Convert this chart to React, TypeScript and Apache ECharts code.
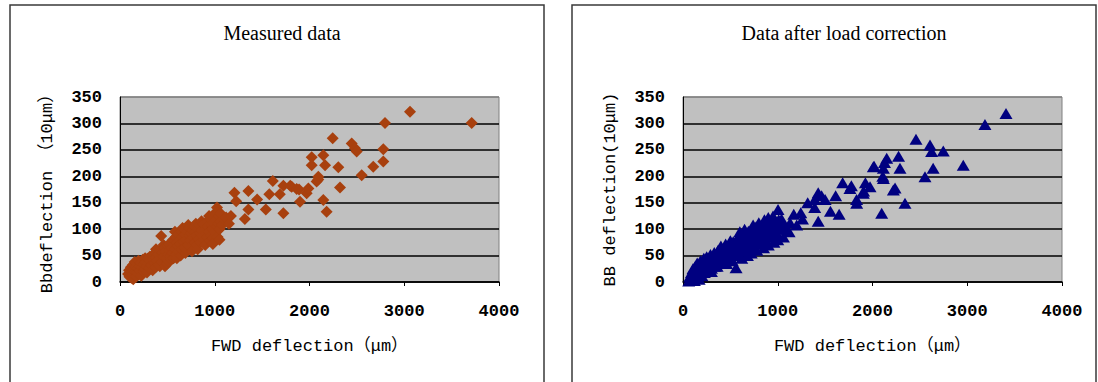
import React, { useEffect, useRef } from "react";
import * as echarts from "echarts";

const titles = ["Measured data", "Data after load correction"];
const xAxisName = "FWD deflection（μm）";
const yAxisNames = ["Bbdeflection （10μm）", "BB deflection(10μm)"];
const yTicks = [0, 50, 100, 150, 200, 250, 300, 350];
const xTicks = [0, 1000, 2000, 3000, 4000];

// Measured data (FWD deflection μm, BB deflection 10μm)
const measured: number[][] = [
  [85, 15], [95, 22], [100, 10], [110, 18], [115, 28], [120, 8], [125, 20], [130, 14], [135, 32], [140, 5],
  [145, 24], [150, 12], [155, 38], [160, 20], [165, 28], [170, 10], [175, 35], [180, 18], [190, 26], [195, 40],
  [200, 15], [205, 30], [210, 22], [220, 36], [225, 12], [230, 28], [240, 42], [245, 20], [250, 33], [260, 25],
  [265, 45], [270, 38], [280, 30], [285, 18], [290, 44], [300, 35], [310, 27], [315, 48], [320, 40], [330, 32],
  [340, 50], [345, 22], [350, 43], [360, 36], [370, 55], [375, 28], [380, 46], [380, 62], [390, 40], [400, 52],
  [410, 33], [420, 60], [420, 30], [425, 45], [435, 87], [440, 38], [450, 55], [460, 48], [460, 70], [470, 65],
  [475, 30], [480, 58], [490, 45], [500, 68], [500, 35], [505, 52], [510, 40], [520, 72], [525, 60], [530, 48],
  [540, 75], [540, 42], [545, 65], [550, 55], [560, 80], [565, 45], [570, 70], [580, 62], [580, 95], [590, 85],
  [595, 52], [600, 75], [600, 45], [610, 68], [615, 90], [620, 58], [630, 80], [640, 72], [640, 50], [645, 95],
  [650, 62], [660, 85], [660, 102], [670, 76], [675, 100], [680, 65], [690, 90], [690, 55], [700, 80], [705, 60],
  [710, 95], [720, 70], [720, 108], [730, 88], [735, 102], [740, 78], [750, 92], [760, 68], [760, 58], [765, 98],
  [770, 84], [780, 105], [790, 75], [800, 95], [800, 110], [805, 88], [810, 70], [820, 100], [820, 62], [830, 82],
  [840, 108], [845, 92], [850, 75], [860, 98], [860, 115], [870, 88], [880, 110], [890, 80], [900, 100], [900, 70],
  [910, 92], [920, 115], [925, 85], [930, 105], [940, 95], [940, 125], [950, 120], [950, 78], [960, 88], [970, 108],
  [975, 100], [980, 82], [980, 72], [990, 112], [1000, 95], [1000, 130], [1010, 118], [1020, 105], [1030, 85],
  [1040, 110], [1042, 125], [1024, 141], [1050, 100], [1050, 80], [1060, 115], [1060, 130], [1080, 108], [1097, 119],
  [1100, 118], [1120, 122], [1150, 110],
  [1171, 125], [1208, 169], [1226, 153], [1318, 119], [1355, 137], [1355, 172], [1447, 156], [1539, 137], [1576, 166],
  [1613, 191], [1687, 166], [1724, 130], [1724, 182], [1797, 182], [1812, 180], [1865, 176], [1890, 175], [1900, 152],
  [1970, 168], [1988, 177], [2023, 236], [2023, 221], [2075, 190], [2093, 199], [2093, 194], [2146, 240], [2146, 155],
  [2164, 221], [2181, 133], [2245, 272], [2304, 217], [2322, 179], [2445, 262], [2480, 253], [2498, 247], [2551, 202],
  [2673, 218], [2779, 251], [2779, 228], [2797, 301], [3061, 322], [3712, 301],
];

// Data after load correction
const corrected: number[][] = [
  [60, 2], [70, 10], [80, 5], [90, 18], [100, 8], [105, 25], [110, 14], [120, 3], [125, 20], [130, 30],
  [140, 10], [145, 24], [150, 36], [160, 15], [165, 28], [170, 5], [180, 20], [185, 40], [190, 30], [200, 12],
  [210, 25], [220, 45], [225, 18], [230, 35], [240, 28], [250, 48], [260, 22], [270, 40], [280, 32], [290, 52],
  [300, 26], [300, 20], [310, 45], [320, 38], [330, 56], [340, 30], [350, 48], [360, 42], [360, 30], [370, 60],
  [380, 35], [390, 52], [400, 45], [400, 68], [410, 63], [420, 38], [430, 56], [440, 50], [450, 68], [450, 72],
  [460, 42], [460, 35], [470, 60], [480, 52], [490, 72], [500, 46], [500, 78], [510, 65], [520, 58], [520, 40],
  [530, 76], [540, 50], [550, 70], [560, 27], [565, 62], [570, 82], [580, 55], [590, 75], [600, 66], [600, 95],
  [610, 88], [620, 58], [620, 45], [630, 80], [640, 70], [650, 92], [650, 100], [660, 62], [670, 84], [680, 75],
  [680, 50], [690, 96], [700, 66], [710, 88], [720, 78], [720, 55], [730, 100], [740, 70], [740, 108], [750, 90],
  [760, 82], [770, 104], [780, 72], [780, 60], [790, 94], [800, 85], [800, 112], [810, 76], [820, 100], [830, 88],
  [840, 78], [850, 104], [850, 65], [860, 92], [860, 118], [870, 82], [880, 106], [890, 95], [900, 85], [900, 122],
  [900, 70], [910, 110], [920, 98], [930, 88], [940, 112], [950, 100], [950, 125], [960, 90], [960, 75], [970, 115],
  [980, 102], [990, 92], [1000, 80], [1003, 137], [1010, 118], [1020, 105], [1040, 119], [1050, 110], [1060, 85],
  [1070, 100], [1095, 100], [1120, 95],
  [1130, 112], [1169, 128], [1200, 108], [1243, 131], [1261, 119], [1316, 150], [1390, 156], [1390, 141], [1427, 115],
  [1427, 169], [1463, 163], [1500, 156], [1556, 134], [1611, 163], [1648, 128], [1685, 188], [1762, 177], [1777, 182],
  [1832, 156], [1833, 149], [1903, 168], [1906, 172], [1925, 188], [1974, 180], [2009, 218], [2017, 219], [2097, 130],
  [2109, 200], [2115, 215], [2115, 196], [2127, 226], [2150, 234], [2220, 174], [2238, 178], [2275, 238], [2290, 215],
  [2343, 149], [2459, 270], [2554, 199], [2607, 259], [2624, 247], [2640, 215], [2747, 248], [2958, 221], [3187, 298],
  [3409, 319],
];

const MONO = '"Liberation Mono", "DejaVu Sans Mono", "Noto Sans CJK SC", monospace';
const SERIF = '"Liberation Serif", "DejaVu Serif", serif';

export default function App() {
  const ref = useRef<HTMLDivElement>(null);
  useEffect(() => {
    if (!ref.current) return;
    const chart = echarts.init(ref.current, undefined, { renderer: "svg" });
    const grids = [
      { left: 120, top: 97, width: 379, height: 185 },
      { left: 683, top: 97, width: 379, height: 185 },
    ];
    const splitColors = yTicks.map((_, i) => (i === yTicks.length - 1 ? "#808080" : "#000000"));
    const labelStyle = { fontFamily: MONO, fontSize: 17, color: "#000", fontWeight: "bold" };
    const nameStyle = { fontFamily: MONO, fontSize: 17, color: "#000", fontWeight: "normal" };
    const mkX = (gi: number) => ({
      type: "value",
      gridIndex: gi,
      min: xTicks[0],
      max: xTicks[xTicks.length - 1],
      interval: 1000,
      name: xAxisName,
      nameLocation: "middle",
      nameGap: 56,
      nameTextStyle: nameStyle,
      axisLine: { show: true, lineStyle: { color: "#000", width: 1.5 } },
      axisTick: { show: true, length: 4, lineStyle: { color: "#000" } },
      axisLabel: { ...labelStyle, margin: 21, formatter: (v: number) => String(v) },
      splitLine: { show: false },
    });
    const mkY = (gi: number) => ({
      type: "value",
      gridIndex: gi,
      min: yTicks[0],
      max: yTicks[yTicks.length - 1],
      interval: 50,
      name: yAxisNames[gi],
      nameLocation: "middle",
      nameGap: 64,
      nameRotate: 90,
      nameTextStyle: nameStyle,
      axisLine: { show: true, lineStyle: { color: "#000", width: 1 } },
      axisTick: { show: false },
      axisLabel: { ...labelStyle, margin: 18, formatter: (v: number) => String(v) },
      splitLine: { show: true, lineStyle: { color: splitColors, width: 1.5 } },
    });
    const titleStyle = { fontFamily: SERIF, fontSize: 20, fontWeight: "normal", color: "#000" };
    chart.setOption({
      animation: false,
      backgroundColor: "#ffffff",
      title: [
        { text: titles[0], left: 277, top: 18, textAlign: "center", textStyle: titleStyle },
        { text: titles[1], left: 839, top: 18, textAlign: "center", textStyle: titleStyle },
      ],
      grid: grids.map((g) => ({ ...g, show: true, backgroundColor: "#c0c0c0", borderColor: "#808080", borderWidth: 1 })),
      xAxis: [mkX(0), mkX(1)],
      yAxis: [mkY(0), mkY(1)],
      graphic: [
        { type: "rect", shape: { x: 10, y: 5, width: 534, height: 400 }, style: { fill: "none", stroke: "#3a3a3a", lineWidth: 1.5 }, z: -1 },
        { type: "rect", shape: { x: 572, y: 5, width: 524, height: 400 }, style: { fill: "none", stroke: "#3a3a3a", lineWidth: 1.5 }, z: -1 },
      ],
      series: [
        {
          type: "scatter",
          xAxisIndex: 0,
          yAxisIndex: 0,
          symbol: "diamond",
          symbolSize: [12, 12],
          itemStyle: { color: "#a8400e", opacity: 1 },
          data: measured,
        },
        {
          type: "scatter",
          xAxisIndex: 1,
          yAxisIndex: 1,
          symbol: "triangle",
          symbolSize: [13, 11],
          itemStyle: { color: "#000080", opacity: 1 },
          data: corrected,
        },
      ],
    });
    return () => chart.dispose();
  }, []);
  return (
    <div
      ref={ref}
      style={{ position: "absolute", left: 0, top: 0, width: 1098, height: 382, background: "#fff" }}
    />
  );
}
